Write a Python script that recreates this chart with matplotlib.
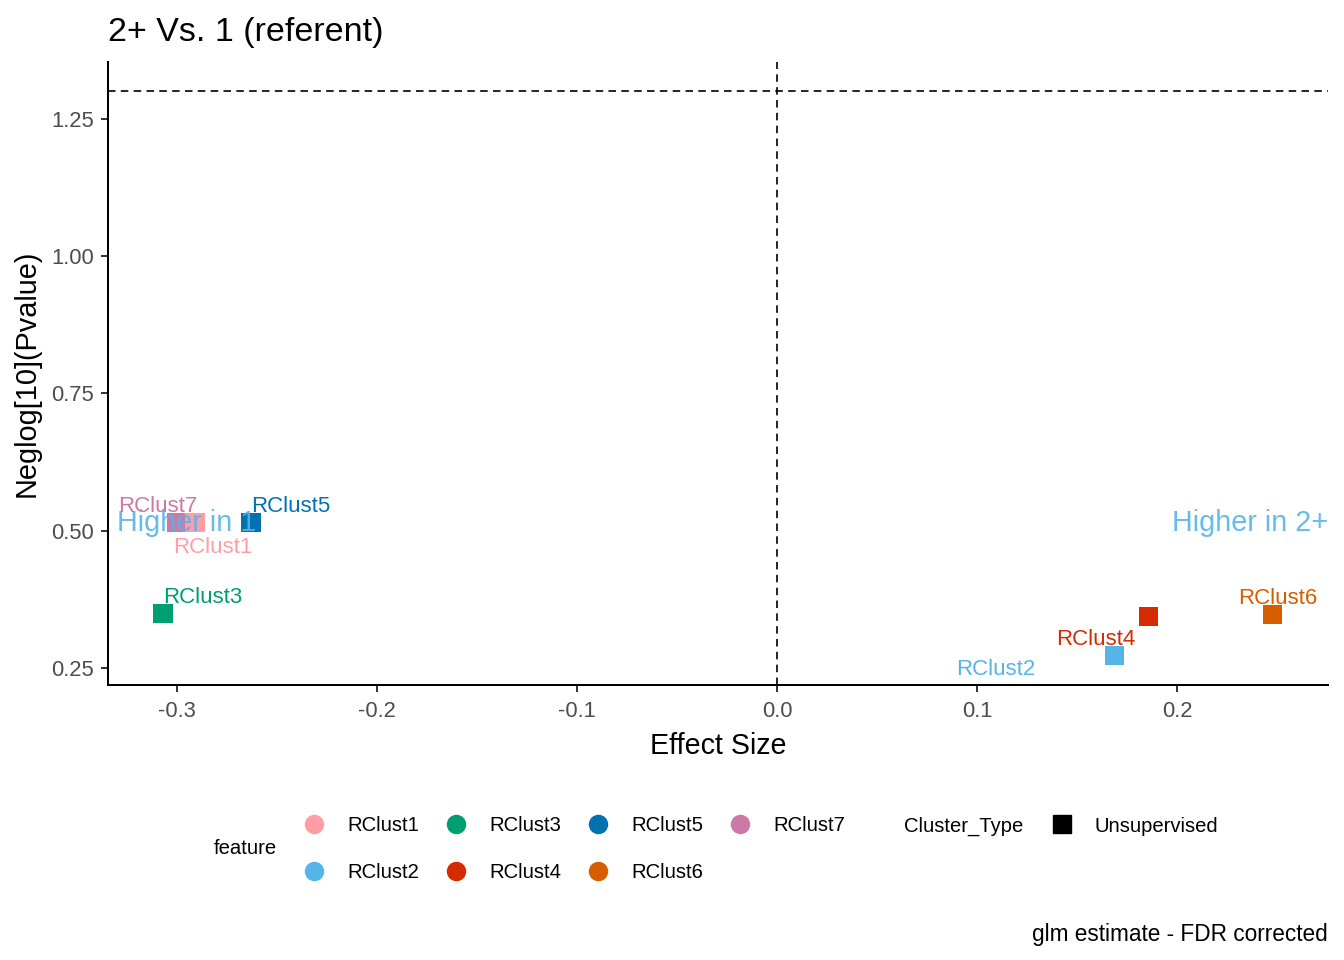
"""2+ vs 1 volcano-style plot of glm effect sizes (FDR corrected)."""

import matplotlib
matplotlib.use("Agg")
import matplotlib.pyplot as plt
from matplotlib.lines import Line2D

plt.rcParams["font.family"] = ["Liberation Sans", "DejaVu Sans"]
plt.rcParams["axes.unicode_minus"] = False

# data
features = ["RClust1", "RClust2", "RClust3", "RClust4", "RClust5", "RClust6", "RClust7"]
effect = [-0.291, 0.169, -0.307, 0.186, -0.263, 0.248, -0.300]
neglogp = [0.515, 0.272, 0.349, 0.344, 0.515, 0.348, 0.515]
colors = ["#FF9DA7", "#56B4E9", "#009E73", "#D52B00", "#0072B2", "#D55E00", "#CC79A7"]
xticks = [-0.3, -0.2, -0.1, 0.0, 0.1, 0.2]
yticks = [0.25, 0.50, 0.75, 1.00, 1.25]
sig_line = 1.301

# label placement (repel-like offsets, pixels)
label_offsets = {
    "RClust1": (18, -23), "RClust2": (-119, -12), "RClust3": (40, 18),
    "RClust4": (-53, -21), "RClust5": (40, 18), "RClust6": (5, 18),
    "RClust7": (-19, 18),
}

fig = plt.figure(figsize=(13.44, 9.6), dpi=100)
ax = fig.add_axes([0.0804, 0.2865, 0.9076, 0.649])

ax.axhline(sig_line, color="black", ls=(0, (4.5, 3.2)), lw=1.2, zorder=1)
ax.axvline(0.0, color="black", ls=(0, (4.5, 3.2)), lw=1.2, zorder=1)

draw_order = [6, 0, 4, 2, 1, 3, 5]
for i in draw_order:
    ax.scatter(effect[i], neglogp[i], marker="s", s=190, color=colors[i],
               edgecolors="none", zorder=3)

ax.text(-0.3300, 0.514, "Higher in 1", color="#56B4E9", alpha=0.9,
        fontsize=20.7, ha="left", va="center", zorder=4)
ax.text(0.2755, 0.514, "Higher in 2+", color="#56B4E9", alpha=0.9,
        fontsize=20.7, ha="right", va="center", zorder=4)

for i, name in enumerate(features):
    dx, dy = label_offsets[name]
    ax.annotate(name, (effect[i], neglogp[i]), xytext=(dx, dy - 2),
                textcoords="offset pixels", ha="center", va="center",
                color=colors[i], fontsize=16, zorder=5)

ax.set_xlim(-0.3345, 0.2755)
ax.set_ylim(0.219, 1.354)
ax.set_xticks(xticks)
ax.set_xticklabels([f"{t:.1f}" for t in xticks])
ax.set_yticks(yticks)
ax.set_yticklabels([f"{t:.2f}" for t in yticks])
ax.tick_params(labelsize=15.8, labelcolor="#4D4D4D", color="#333333",
               length=5, width=1.4)
ax.tick_params(axis="x", pad=6.5)
ax.tick_params(axis="y", pad=5)
for side in ["top", "right"]:
    ax.spines[side].set_visible(False)
for side in ["left", "bottom"]:
    ax.spines[side].set_linewidth(1.45)

ax.set_xlabel("Effect Size", fontsize=20.6, labelpad=7)
ax.set_ylabel("Neglog[10](Pvalue)", fontsize=20.8, labelpad=8)
fig.text(108 / 1344, 1 - 32 / 960, "2+ Vs. 1 (referent)", fontsize=24.5,
         ha="left", va="center")
fig.text(1328 / 1344, 1 - 934 / 960, "glm estimate - FDR corrected",
         fontsize=16.3, ha="right", va="center")

# legends
handles = [Line2D([], [], marker="o", ls="none", color=c, markersize=13)
           for c in colors]
fig.legend(handles, features, ncol=4, frameon=False, fontsize=14.6,
           loc="center left", bbox_to_anchor=(304 / 1344, 1 - 849 / 960),
           handlelength=1.0, handletextpad=1.15, columnspacing=1.3,
           labelspacing=1.38, borderpad=0, borderaxespad=0)
fig.text(214 / 1344, 1 - 849 / 960, "feature", fontsize=14.6, ha="left",
         va="center")
fig.text(904 / 1344, 1 - 826 / 960, "Cluster_Type", fontsize=14.6,
         ha="left", va="center")
fig.legend([Line2D([], [], marker="s", ls="none", color="black", markersize=13)],
           ["Unsupervised"], frameon=False, fontsize=14.6, loc="center left",
           bbox_to_anchor=(1052 / 1344, 1 - 826 / 960), handlelength=1.0,
           handletextpad=1.1, borderpad=0, borderaxespad=0)

fig.savefig("out.png", dpi=100)
